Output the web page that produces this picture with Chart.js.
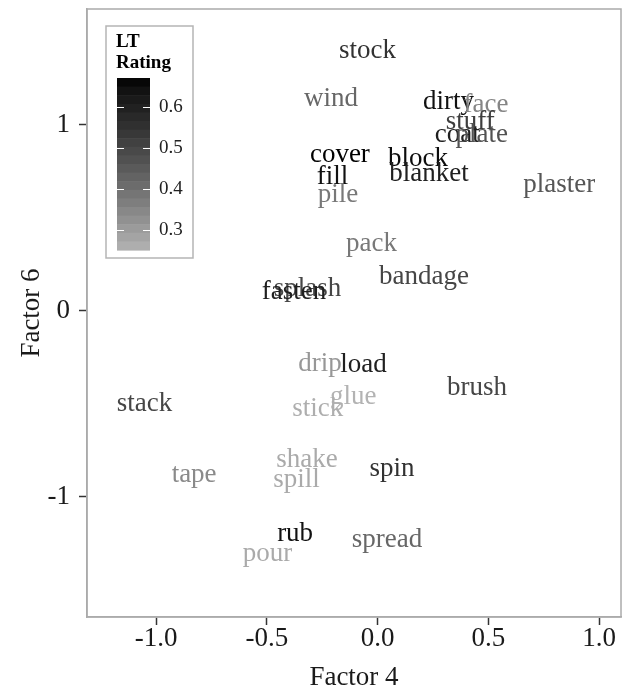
<!DOCTYPE html>
<html>
<head>
<meta charset="utf-8">
<script src="https://cdn.jsdelivr.net/npm/chart.js@4.4.1/dist/chart.umd.min.js"></script>
<style>
  html, body { margin: 0; padding: 0; background: #fff; }
  canvas { display: block; }
</style>
</head>
<body>
<canvas id="wordChart" width="624" height="691"></canvas>
<script>
// words and their factor loadings
const words = ['stock', 'wind', 'dirty', 'face', 'stuff', 'coat', 'plate', 'cover', 'block', 'blanket',
    'fill', 'pile', 'plaster', 'pack', 'bandage', 'splash', 'fasten', 'drip', 'load', 'glue',
    'stick', 'stack', 'brush', 'shake', 'spin', 'tape', 'spill', 'rub', 'spread', 'pour'];
const factor4 = [-0.045, -0.21, 0.32, 0.49, 0.418, 0.36, 0.47, -0.17, 0.183, 0.232,
    -0.203, -0.178, 0.82, -0.027, 0.21, -0.316, -0.377, -0.26, -0.063, -0.11,
    -0.27, -1.052, 0.449, -0.318, 0.065, -0.828, -0.366, -0.372, 0.043, -0.497];
const factor6 = [1.408, 1.15, 1.134, 1.117, 1.026, 0.956, 0.956, 0.849, 0.827, 0.747,
    0.73, 0.633, 0.69, 0.37, 0.192, 0.13, 0.11, -0.276, -0.28, -0.453,
    -0.518, -0.49, -0.405, -0.793, -0.841, -0.873, -0.9, -1.191, -1.224, -1.299];
const ltRating = [0.55, 0.42, 0.64, 0.35, 0.52, 0.60, 0.47, 0.67, 0.65, 0.60,
    0.64, 0.38, 0.46, 0.38, 0.50, 0.50, 0.60, 0.31, 0.60, 0.25,
    0.26, 0.50, 0.50, 0.27, 0.55, 0.34, 0.27, 0.64, 0.42, 0.27];

const xTicks = [-1.0, -0.5, 0.0, 0.5, 1.0];
const yTicks = [-1, 0, 1];
const ratingTicks = [0.3, 0.4, 0.5, 0.6];

const serif = "'Liberation Serif', 'Times New Roman', serif";
const ratingMin = Math.min(...ltRating);
const ratingMax = Math.max(...ltRating);

// grey70 -> black, interpolated in Lab like ggplot does
function greyFor(v) {
    const t = (v - ratingMin) / (ratingMax - ratingMin);
    const L = (1 - t) * 72.94;
    const Y = L > 8 ? Math.pow((L + 16) / 116, 3) : L / 903.3;
    const c = Y <= 0.0031308 ? 12.92 * Y : 1.055 * Math.pow(Y, 1 / 2.4) - 0.055;
    const g = Math.round(Math.max(0, Math.min(1, c)) * 255);
    return `rgb(${g},${g},${g})`;
}

// draws each word at its point position (small nudge so the glyphs sit centred like ggplot)
const wordLabels = {
    id: 'wordLabels',
    afterDatasetsDraw(chart) {
        const ctx = chart.ctx;
        const meta = chart.getDatasetMeta(0);
        ctx.save();
        ctx.font = `27px ${serif}`;
        ctx.textAlign = 'center';
        ctx.textBaseline = 'middle';
        meta.data.forEach((pt, i) => {
            ctx.fillStyle = greyFor(ltRating[i]);
            ctx.fillText(words[i], pt.x, pt.y + 2);
        });
        ctx.restore();
    }
};

// panel border plus the colour bar legend
const panelAndLegend = {
    id: 'panelAndLegend',
    afterDraw(chart) {
        const ctx = chart.ctx;
        const a = chart.chartArea;
        ctx.save();
        ctx.strokeStyle = '#ababab';
        ctx.lineWidth = 1.5;
        ctx.strokeRect(a.left, a.top, a.right - a.left, a.bottom - a.top);

        // legend box
        ctx.fillStyle = '#fff';
        ctx.fillRect(106, 26, 87, 232);
        ctx.strokeStyle = '#b5b5b5';
        ctx.strokeRect(106, 26, 87, 232);

        ctx.fillStyle = '#000';
        ctx.font = `bold 19px ${serif}`;
        ctx.textAlign = 'left';
        ctx.textBaseline = 'alphabetic';
        ctx.fillText('LT', 116, 47);
        ctx.fillText('Rating', 116, 68);

        // colour bar, 20 bins
        const barX = 117, barW = 33, barTop = 78, barBottom = 250;
        const nbin = 20;
        const step = (barBottom - barTop) / nbin;
        for (let b = 0; b < nbin; b++) {
            const v = ratingMax - (b + 0.5) / nbin * (ratingMax - ratingMin);
            ctx.fillStyle = greyFor(v);
            ctx.fillRect(barX, barTop + b * step, barW, step + 0.6);
        }
        const valueToY = v => barBottom - (v - ratingMin) / (ratingMax - ratingMin) * (barBottom - barTop);
        ctx.strokeStyle = '#fff';
        ctx.lineWidth = 1;
        ctx.font = `19px ${serif}`;
        ctx.textBaseline = 'middle';
        ratingTicks.forEach(v => {
            const y = Math.round(valueToY(v)) + 0.5;
            ctx.beginPath();
            ctx.moveTo(barX, y); ctx.lineTo(barX + 7, y);
            ctx.moveTo(barX + barW - 7, y); ctx.lineTo(barX + barW, y);
            ctx.stroke();
            ctx.fillStyle = '#222';
            ctx.fillText(v.toFixed(1), 159, y);
        });
        ctx.restore();
    }
};

const axisFont = { family: serif, size: 27 };

new Chart(document.getElementById('wordChart'), {
    type: 'scatter',
    data: {
        datasets: [{
            data: words.map((w, i) => ({ x: factor4[i], y: factor6[i] })),
            pointRadius: 0,
            pointHoverRadius: 0
        }]
    },
    options: {
        responsive: false,
        animation: false,
        events: [],
        layout: { padding: { top: 9, right: 3, left: 0, bottom: 0 } },
        plugins: { legend: { display: false }, tooltip: { enabled: false } },
        scales: {
            x: {
                type: 'linear',
                min: -1.3115,
                max: 1.099,
                afterBuildTicks: scale => { scale.ticks = xTicks.map(v => ({ value: v })); },
                afterFit: scale => { scale.height = 74; scale.paddingLeft = 0; scale.paddingRight = 0; },
                ticks: {
                    font: axisFont,
                    color: '#1a1a1a',
                    padding: -2,
                    callback: v => Number(v).toFixed(1)
                },
                grid: { drawOnChartArea: false, drawTicks: true, tickLength: 8, tickColor: '#333', tickWidth: 1.5 },
                border: { display: true, color: '#ababab', width: 1.5 },
                title: { display: true, text: 'Factor 4', font: axisFont, color: '#1a1a1a', padding: { top: 0, bottom: -3 } }
            },
            y: {
                type: 'linear',
                min: -1.649,
                max: 1.624,
                afterBuildTicks: scale => { scale.ticks = yTicks.map(v => ({ value: v })); },
                afterFit: scale => { scale.width = 87; scale.paddingTop = 0; scale.paddingBottom = 0; },
                ticks: {
                    font: axisFont,
                    color: '#1a1a1a',
                    padding: 9,
                    callback: v => String(v)
                },
                grid: { drawOnChartArea: false, drawTicks: true, tickLength: 8, tickColor: '#333', tickWidth: 1.5 },
                border: { display: true, color: '#ababab', width: 1.5 },
                title: { display: true, text: 'Factor 6', font: axisFont, color: '#1a1a1a', padding: { top: 16, bottom: 0 } }
            }
        }
    },
    plugins: [wordLabels, panelAndLegend]
});
</script>
</body>
</html>
